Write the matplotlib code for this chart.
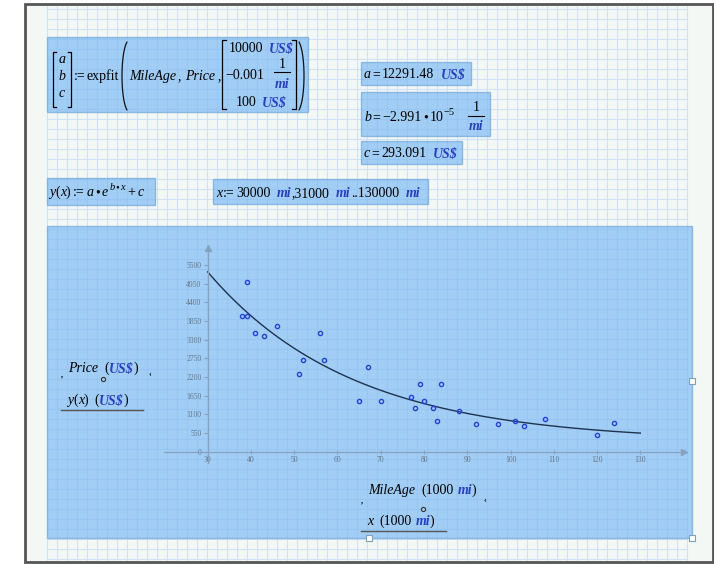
import numpy as np
import matplotlib.pyplot as plt
from matplotlib.patches import Rectangle

# points (MileAge in 1000 mi, Price in US$)
mileage = [38, 39, 39, 41, 43, 46, 51, 52, 56, 57, 65, 67, 70, 77, 78, 79, 80,
           82, 83, 84, 88, 92, 97, 101, 103, 108, 120, 124]
price = [4000, 4000, 5000, 3500, 3400, 3700, 2300, 2700, 3500, 2700, 1500, 2500,
         1500, 1600, 1300, 2000, 1500, 1300, 900, 2000, 1200, 800, 800, 900, 750,
         975, 500, 850]

# expfit result shown in the worksheet
a_fit = 12291.48
b_fit = -2.991e-5
c_fit = 293.091
x_range = np.arange(30000, 130001, 1000)   # x := 30000 mi, 31000 mi .. 130000 mi

x_ticks = list(range(30, 131, 10))
y_ticks = list(range(0, 5501, 550))

SERIF = 'Liberation Serif'
UNIT = '#2a3fbf'
BOX_FC = '#7fbcf5'
BOX_EC = '#6fa6d8'

fig = plt.figure(figsize=(7.14, 5.64), dpi=100)
bg = fig.add_axes([0, 0, 1, 1])
bg.set_xlim(0, 714)
bg.set_ylim(564, 0)
bg.axis('off')
renderer = fig.canvas.get_renderer()

# worksheet page with grid
bg.add_patch(Rectangle((25, 4), 688, 558, facecolor='#f4f8f4', edgecolor='#555555', lw=2))
for gx in np.arange(47, 690, 10):
    bg.plot([gx, gx], [6, 560], color='#cfe3f4', lw=0.8, zorder=1)
for gy in np.arange(9, 561, 10):
    bg.plot([47, 686], [gy, gy], color='#cfe3f4', lw=0.8, zorder=1)


def box(x0, y0, x1, y1):
    bg.add_patch(Rectangle((x0, y0), x1 - x0, y1 - y0, facecolor=BOX_FC, alpha=0.7,
                           edgecolor=BOX_EC, lw=1, zorder=2))


def run(x, y, pieces, size=10):
    # pieces: (text, kind) or a number = gap in px
    for p in pieces:
        if not isinstance(p, tuple):
            x += p
            continue
        s, k = p
        fs, dy = size, 0
        if k.startswith('s'):
            fs, dy, k = size * 0.75, -6, k[1:]
        kw = dict(style='normal', weight='normal', color='black')
        if k == 'i':
            kw['style'] = 'italic'
        elif k == 'u':
            kw.update(style='italic', weight='bold', color=UNIT)
        t = bg.text(x, y + dy, s, fontsize=fs, family=SERIF, va='baseline', ha='left',
                    zorder=5, **kw)
        x = t.get_window_extent(renderer).x1
    return x


def frac(xc, y_top, y_bar, y_bot, half):
    bg.text(xc, y_top, '1', fontsize=10, family=SERIF, ha='center', va='baseline', zorder=5)
    bg.plot([xc - half, xc + half], [y_bar, y_bar], color='black', lw=0.8, zorder=5)
    bg.text(xc, y_bot, 'mi', fontsize=10, family=SERIF, style='italic', weight='bold',
            color=UNIT, ha='center', va='baseline', zorder=5)


def bracket(x, y0, y1, d):
    bg.plot([x + d, x, x, x + d], [y0, y0, y1, y1], color='black', lw=0.9, zorder=5)


def paren(x_out, y0, y1, w, left):
    t = np.linspace(-1.25, 1.25, 40)
    ys = (y0 + y1) / 2 + (y1 - y0) / 2 * np.sin(t) / np.sin(1.25)
    xs = w * (1 - np.cos(t)) / (1 - np.cos(1.25))
    xs = x_out + xs if left else x_out - xs
    bg.plot(xs, ys, color='#111111', lw=0.9, zorder=5, solid_capstyle='round')


# expfit region
box(47, 37, 308, 112)
bracket(53, 52, 107, 3)
bracket(71, 52, 107, -3)
for s, by in zip('abc', [63, 80, 97]):
    bg.text(62, by, s, fontsize=10, family=SERIF, style='italic', ha='center',
            va='baseline', zorder=5)
run(74, 80, [(':=', 'n'), 1, ('expfit', 'n')])
paren(122, 42, 110, 5, True)
run(129, 80, [('MileAge', 'i'), 2, (',', 'n'), 4, ('Price', 'i'), 2, (',', 'n')])
bracket(222, 40, 109, 4)
bracket(296, 40, 109, -4)
paren(304, 42, 110, 5, False)
run(229, 52, [('10000', 'n'), 5, ('US$', 'u')])
run(225, 79, [('−0.001', 'n')])
frac(282, 68, 72, 88, 8)
run(236, 106, [('100', 'n'), 5, ('US$', 'u')])

# results
box(361, 62, 471, 85)
run(364, 78, [('a', 'i'), 1, ('=', 'n'), 2, ('12291.48', 'n'), 7, ('US$', 'u')])
box(361, 92, 490, 136)
run(364, 121, [('b', 'i'), 1, ('=', 'n'), 2, ('−2.991', 'n'), 2, ('•', 'n'), 2, ('10', 'n'),
               ('−5', 'sn')])
frac(476, 111, 116, 130, 8)
box(361, 141, 462, 164)
run(364, 157, [('c', 'i'), 1, ('=', 'n'), 2, ('293.091', 'n'), 7, ('US$', 'u')])

# y(x) definition and range variable
box(47, 178, 155, 205)
run(49, 196, [('y', 'i'), ('(', 'n'), ('x', 'i'), (')', 'n'), 2, (':=', 'n'), 2, ('a', 'i'),
              2, ('•', 'n'), 2, ('e', 'i'), 1, ('b', 'si'), 1, ('•', 'sn'), 1, ('x', 'si'), 3,
              ('+', 'n'), 2, ('c', 'i')])
box(213, 179, 428, 204)
run(216, 197, [('x', 'i'), 1, (':=', 'n'), 1, ('30000', 'n'), 6, ('mi', 'u'), 1,
               (',31000', 'n'), 6, ('mi', 'u'), 1, ('..130000', 'n'), 6, ('mi', 'u')])

# plot region
box(47, 226, 692, 538)
for hx, hy in [(692, 381), (692, 538), (369, 538)]:
    bg.add_patch(Rectangle((hx - 3, hy - 3), 6, 6, facecolor='white', edgecolor='#7f9fbf',
                           lw=0.8, zorder=6))

run(68, 372, [('Price', 'i'), 6, ('(', 'n'), ('US$', 'u'), (')', 'n')])
run(67, 404, [('y', 'i'), ('(', 'n'), ('x', 'i'), (')', 'n'), 6, ('(', 'n'), ('US$', 'u'),
              (')', 'n')])
bg.plot([61, 143], [410, 410], color='#555555', lw=1, zorder=5)
run(368, 494, [('MileAge', 'i'), 6, ('(1000', 'n'), 4, ('mi', 'u'), (')', 'n')])
run(367, 525, [('x', 'i'), 6, ('(1000', 'n'), 4, ('mi', 'u'), (')', 'n')])
bg.plot([361, 446], [531, 531], color='#555555', lw=1, zorder=5)
for mx, my, s in [(62, 376, ','), (150, 376, '‹'), (362, 502, ','), (485, 502, '‹')]:
    bg.text(mx, my, s, fontsize=6, family=SERIF, weight='bold', ha='center', zorder=5)
for mx, my in [(103, 379), (423, 509)]:
    bg.plot(mx, my, 'o', ms=3, mfc='none', mec='#333333', mew=0.8, zorder=5)

# chart axes: x 20..140, y -350..6000
ax = fig.add_axes([164.4 / 714, (564 - 463.4) / 564, 519.2 / 714, 215.1 / 564])
ax.set_facecolor('none')
ax.set_xlim(20, 140)
ax.set_ylim(-350, 6000)
for side in ['top', 'right']:
    ax.spines[side].set_visible(False)
ax.spines['left'].set_position(('data', 30))
ax.spines['bottom'].set_position(('data', 0))
for side in ['left', 'bottom']:
    ax.spines[side].set_color('#86a2bf')
    ax.spines[side].set_linewidth(0.9)
ax.plot(1, 0, '>', color='#86a2bf', ms=4, transform=ax.get_yaxis_transform(), clip_on=False)
ax.plot(30, 1, '^', color='#86a2bf', ms=4, transform=ax.get_xaxis_transform(), clip_on=False)
ax.set_xticks(x_ticks)
ax.set_yticks(y_ticks)
ax.tick_params(axis='both', colors='#86a2bf', labelcolor='#66778a', labelsize=5.5, length=3,
               width=0.8, pad=1.5)
ax.tick_params(axis='x', direction='inout')
for lab in ax.get_xticklabels() + ax.get_yticklabels():
    lab.set_family(SERIF)

ax.plot(x_range / 1000, a_fit * np.exp(b_fit * x_range) + c_fit, color='#1f3350', lw=1)
ax.plot(mileage, price, 'o', ms=3, mfc='none', mec='#2443d6', mew=1.0)

fig.savefig('out.png', dpi=100)
